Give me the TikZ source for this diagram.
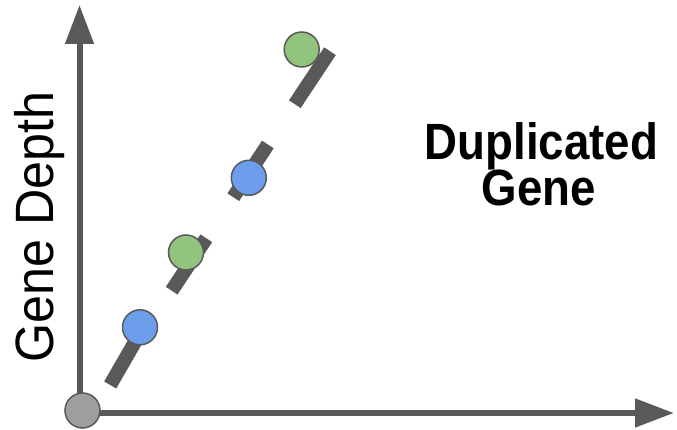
\documentclass[tikz,border=0pt]{standalone}
\usepackage{fontspec}
\setmainfont{Liberation Sans}
\usetikzlibrary{arrows.meta}
\definecolor{dkgray}{HTML}{595959}
\definecolor{ptblue}{HTML}{6D9EEB}
\definecolor{ptgreen}{HTML}{93C47D}
\definecolor{ptgray}{HTML}{9E9E9E}
\tikzset{
  axisline/.style={draw=dkgray, line width=6pt, -{Triangle[length=39pt,width=27.6pt]}},
  bar/.style={draw=dkgray, line width=14pt, line cap=butt},
  dot/.style={circle, draw=dkgray, line width=1.5pt, minimum size=35pt, inner sep=0pt},
  bluedot/.style={dot, fill=ptblue},
  greendot/.style={dot, fill=ptgreen},
  graydot/.style={dot, fill=ptgray},
}
\begin{document}
\begin{tikzpicture}[x=1pt,y=1pt]
\useasboundingbox (0,0) rectangle (677,430);
% axes
\coordinate (ybase) at (79.5,17);
\coordinate (ytip) at (79.5,425);
\coordinate (xbase) at (79.5,17);
\coordinate (xtip) at (674,17);
\draw[axisline] (ybase) -- (ytip);
\draw[axisline] (xbase) -- (xtip);
% bars
\coordinate (s1a) at (110.2,45);
\coordinate (s1b) at (139,95);
\coordinate (s2a) at (171.7,139.3);
\coordinate (s2b) at (206.3,191.7);
\coordinate (s3a) at (233.3,232.8);
\coordinate (s3b) at (267.8,285.5);
\coordinate (s4a) at (294.8,325.8);
\coordinate (s4b) at (330,378.8);
\draw[bar] (s1a) -- (s1b);
\draw[bar] (s2a) -- (s2b);
\draw[bar] (s3a) -- (s3b);
\draw[bar] (s4a) -- (s4b);
% dots
\node[graydot] (origin) at (82.5,19.5) {};
\node[bluedot] (b1) at (140,102.7) {};
\node[greendot] (g1) at (186,177.5) {};
\node[bluedot] (b2) at (248.8,252.2) {};
\node[greendot] (g2) at (301.7,380.5) {};
% labels
\node[rotate=90, anchor=base, inner sep=0pt, font=\fontsize{54}{60}\selectfont] (ylabel) at (53,202.7) {\scalebox{0.93}[1]{Gene Depth}};
\node[anchor=base, inner sep=0pt, font=\fontsize{51}{56}\selectfont\bfseries] (t1) at (541.5,270) {\scalebox{0.895}[1]{Duplicated}};
\node[anchor=base, inner sep=0pt, font=\fontsize{51}{56}\selectfont\bfseries] (t2) at (539,224) {\scalebox{0.895}[1]{Gene}};
\end{tikzpicture}
\end{document}
